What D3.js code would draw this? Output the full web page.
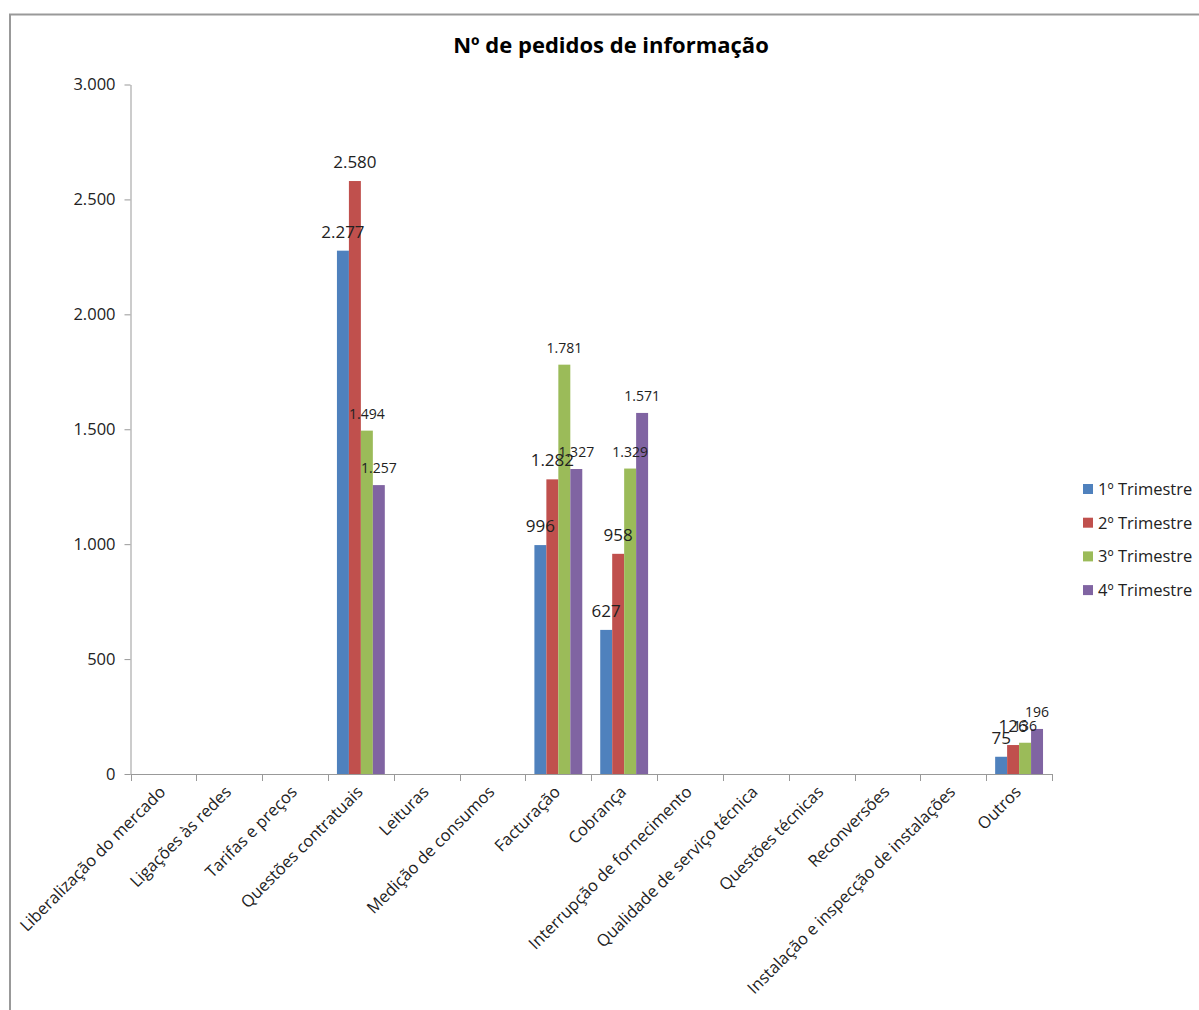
<!DOCTYPE html>
<html>
<head>
<meta charset="utf-8">
<script src="https://cdn.jsdelivr.net/npm/d3@7/dist/d3.min.js"></script>
<style>
  html, body { margin: 0; padding: 0; background: #fff; }
  svg { display: block; font-family: "Open Sans", sans-serif; }
</style>
</head>
<body>
<div id="chart"></div>
<script>
const title = "Nº de pedidos de informação";
const categories = [
  "Liberalização do mercado", "Ligações às redes", "Tarifas e preços",
  "Questões contratuais", "Leituras", "Medição de consumos", "Facturação",
  "Cobrança", "Interrupção de fornecimento", "Qualidade de serviço técnica",
  "Questões técnicas", "Reconversões", "Instalação e inspecção de instalações", "Outros"
];
const seriesNames = ["1º Trimestre", "2º Trimestre", "3º Trimestre", "4º Trimestre"];
const q1 = [null, null, null, 2277, null, null, 996, 627, null, null, null, null, null, 75];
const q2 = [null, null, null, 2580, null, null, 1282, 958, null, null, null, null, null, 126];
const q3 = [null, null, null, 1494, null, null, 1781, 1329, null, null, null, null, null, 136];
const q4 = [null, null, null, 1257, null, null, 1327, 1571, null, null, null, null, null, 196];
const yTicks = [0, 500, 1000, 1500, 2000, 2500, 3000];

const seriesValues = [q1, q2, q3, q4];
const colors = ["#4F81BD", "#C0504D", "#9BBB59", "#8064A2"];
const labelSizes = [17, 17, 14, 14];

const W = 1199, H = 1010;
const svg = d3.select("#chart").append("svg").attr("width", W).attr("height", H);

// frame
svg.append("path").attr("d", `M10,${H} L10,14.5 L${W},14.5`)
  .attr("fill", "none").attr("stroke", "#999").attr("stroke-width", 2);

const plot = { left: 130.5, right: 1052, top: 84.5, bottom: 774 };

svg.append("text").attr("x", 611).attr("y", 53).attr("text-anchor", "middle")
  .attr("font-size", 22).attr("font-weight", "bold").attr("fill", "#000").text(title);

const locale = d3.formatLocale({ decimal: ",", thousands: ".", grouping: [3], currency: ["", ""] });
const fmt = locale.format(",d");

const x0 = d3.scaleBand().domain(categories).range([plot.left, plot.right]).padding(0);
const x1 = d3.scaleBand().domain(d3.range(seriesNames.length)).range([0, x0.bandwidth()])
  .paddingInner(0).paddingOuter(0.75);
const y = d3.scaleLinear().domain([0, 3000]).range([plot.bottom, plot.top]);

// y axis
const yAxis = svg.append("g").attr("transform", `translate(${plot.left},0)`)
  .call(d3.axisLeft(y).tickValues(yTicks).tickFormat(fmt).tickSize(6).tickSizeOuter(0).tickPadding(9));
yAxis.select(".domain").attr("stroke", "#999");
yAxis.selectAll(".tick line").attr("stroke", "#999");
yAxis.selectAll(".tick text").attr("font-size", 16.5).attr("fill", "#222")
  .attr("font-family", "Open Sans, sans-serif");

// bars
const groups = svg.append("g");
seriesValues.forEach((vals, si) => {
  const data = categories.map((c, i) => ({ c, v: vals[i] })).filter(d => d.v != null);
  groups.selectAll(null).data(data).enter().append("rect")
    .attr("x", d => x0(d.c) + x1(si))
    .attr("y", d => y(d.v))
    .attr("width", x1.bandwidth())
    .attr("height", d => y(0) - y(d.v))
    .attr("fill", colors[si]);
});

// x axis (category boundaries)
const xAxisG = svg.append("g");
xAxisG.append("line").attr("x1", plot.left).attr("x2", plot.right)
  .attr("y1", plot.bottom + 0.5).attr("y2", plot.bottom + 0.5).attr("stroke", "#999");
const bounds = categories.map(c => x0(c)).concat([plot.right]);
xAxisG.selectAll(null).data(bounds).enter().append("line")
  .attr("x1", d => Math.round(d) + 0.5).attr("x2", d => Math.round(d) + 0.5)
  .attr("y1", plot.bottom).attr("y2", plot.bottom + 7).attr("stroke", "#999");

// x labels
svg.append("g").selectAll(null).data(categories).enter().append("text")
  .attr("transform", d => `translate(${x0(d) + x0.bandwidth() / 2 + 3},${plot.bottom + 19}) rotate(-45)`)
  .attr("text-anchor", "end").attr("font-size", 16.5).attr("fill", "#222")
  .text(d => d);

// data labels
seriesValues.forEach((vals, si) => {
  const data = categories.map((c, i) => ({ c, v: vals[i] })).filter(d => d.v != null);
  svg.append("g").selectAll(null).data(data).enter().append("text")
    .attr("x", d => x0(d.c) + x1(si) + x1.bandwidth() / 2)
    .attr("y", d => y(d.v) - (labelSizes[si] > 15 ? 13 : 12))
    .attr("text-anchor", "middle").attr("font-size", labelSizes[si]).attr("fill", "#222")
    .text(d => fmt(d.v));
});

// legend
const legend = svg.append("g");
seriesNames.forEach((s, i) => {
  const cy = 489 + i * 33.7;
  legend.append("rect").attr("x", 1083).attr("y", cy - 5).attr("width", 10).attr("height", 10)
    .attr("fill", colors[i]);
  legend.append("text").attr("x", 1098).attr("y", cy + 6).attr("font-size", 16.5)
    .attr("fill", "#222").text(s);
});
</script>
</body>
</html>
